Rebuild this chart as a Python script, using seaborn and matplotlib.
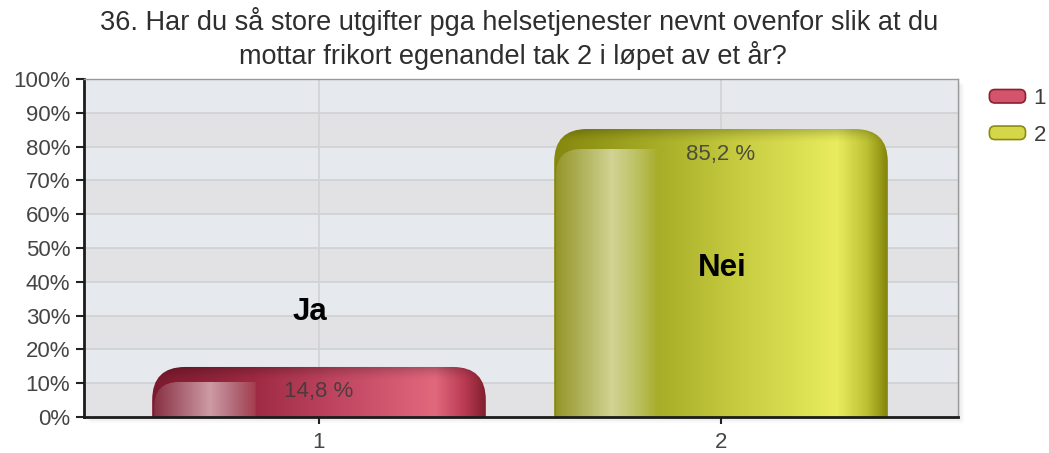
import numpy as np
import pandas as pd
import matplotlib
matplotlib.use("Agg")
import matplotlib.pyplot as plt
import seaborn as sns
from matplotlib.path import Path
from matplotlib.patches import PathPatch, FancyBboxPatch, Rectangle, Patch
from matplotlib.colors import LinearSegmentedColormap
from matplotlib.legend_handler import HandlerPatch

# ---- data -------------------------------------------------------------
categories = ["1", "2"]
shares = [14.8, 85.2]
answers = ["Ja", "Nei"]
value_labels = ["14,8 %", "85,2 %"]
title_lines = [
    "36. Har du så store utgifter pga helsetjenester nevnt ovenfor slik at du",
    "mottar frikort egenandel tak 2 i løpet av et år?",
]
y_ticks = list(range(0, 101, 10))
y_tick_labels = [f"{t}%" for t in y_ticks]

# ---- styling ----------------------------------------------------------
body_stops = [
    [(0.0, "#7a1a2e"), (0.3, "#9e2a42"), (0.55, "#bf4560"), (0.85, "#e2687e"),
     (0.94, "#b83a52"), (1.0, "#84202f")],
    [(0.0, "#86880e"), (0.3, "#a6ac26"), (0.55, "#c6cb40"), (0.85, "#e8ec5e"),
     (0.94, "#bcc032"), (1.0, "#85860c")],
]
shine_stops = [
    [(0.0, "#8a3445"), (0.55, "#d5a9b2"), (0.8, "#b5707e"), (1.0, "#a4404f")],
    [(0.0, "#96982e"), (0.55, "#d8daa2"), (0.8, "#c0c46a"), (1.0, "#a8ae2c")],
]
legend_colors = ["#d4546c", "#d4d848"]
legend_edges = ["#8a2035", "#8a8c10"]
band_colors = ["#e2e2e4", "#e6e9ed"]

W, H = 1049, 453
sns.set_theme(style="white")
plt.rcParams["font.family"] = ["Liberation Sans", "DejaVu Sans"]

fig = plt.figure(figsize=(W / 100, H / 100), dpi=100)
fig.patch.set_facecolor("white")
ax_rect = [84 / W, 1 - 417 / H, (958 - 84) / W, (417 - 79) / H]
ax = fig.add_axes(ax_rect)

# soft drop shadow behind the plot area
for k, a in [(6, 0.025), (4, 0.035), (2, 0.05)]:
    fig.patches.append(Rectangle((ax_rect[0] + k / W, ax_rect[1] - k / H),
                                 ax_rect[2], ax_rect[3], transform=fig.transFigure,
                                 facecolor="black", alpha=a, edgecolor="none", zorder=-5))

df = pd.DataFrame({"kategori": categories, "andel": shares})
sns.barplot(data=df, x="kategori", y="andel", hue="kategori", palette=legend_colors,
            width=0.83, ax=ax, legend=False, zorder=2)

ax.set_xlim(-235 / 402, 1 + 237 / 402)
ax.set_ylim(0, 100)

# alternating horizontal bands and grid
for i in range(10):
    ax.axhspan(i * 10, (i + 1) * 10, color=band_colors[i % 2], zorder=0, lw=0)
for t in y_ticks[1:-1]:
    ax.axhline(t, color="#cfd0d3", lw=1.2, zorder=1)
for i in range(len(categories)):
    ax.axvline(i, color="#d2d2d4", lw=1.2, zorder=1)

fig.canvas.draw()
# data units per pixel
(px0, py0), (px1, py1) = ax.transData.transform([(0, 0), (1, 10)])
ux = 1 / (px1 - px0)
uy = 10 / (py1 - py0)


def rounded_top(x0, x1, y0, y1, rx, ry, left_only=False):
    ry = min(ry, y1 - y0)
    verts = [(x0, y0), (x0, y1 - ry), (x0, y1), (x0 + rx, y1)]
    codes = [Path.MOVETO, Path.LINETO, Path.CURVE3, Path.CURVE3]
    if left_only:
        verts += [(x1, y1), (x1, y0), (x0, y0)]
        codes += [Path.LINETO, Path.LINETO, Path.CLOSEPOLY]
    else:
        verts += [(x1 - rx, y1), (x1, y1), (x1, y1 - ry), (x1, y0), (x0, y0)]
        codes += [Path.LINETO, Path.CURVE3, Path.CURVE3, Path.LINETO, Path.CLOSEPOLY]
    return Path(verts, codes)


def hgrad(stops):
    cmap = LinearSegmentedColormap.from_list("g", stops)
    return cmap(np.linspace(0, 1, 400))[None, :, :]


bars = [p for p in ax.patches if isinstance(p, Rectangle)][: len(categories)]
bars = sorted(bars, key=lambda p: p.get_x())
for i, bar in enumerate(bars):
    bar.set_visible(False)
    x0, w, h = bar.get_x(), bar.get_width(), bar.get_height()
    x1 = x0 + w
    rx, ry = 33 * ux, 33 * uy
    clip = PathPatch(rounded_top(x0, x1, 0, h, rx, ry), transform=ax.transData,
                     facecolor="none", edgecolor="none")
    im = ax.imshow(hgrad(body_stops[i]), extent=[x0, x1, 0, h], aspect="auto",
                   zorder=3, interpolation="bilinear")
    im.set_clip_path(clip)

    # darker rim along the rounded top
    rim = np.zeros((64, 1, 4))
    rim[..., 3] = np.linspace(0.0, 0.35, 64)[:, None] ** 1.5
    top_band = 14 * uy
    im2 = ax.imshow(rim, extent=[x0, x1, h - top_band, h], aspect="auto",
                    zorder=4, interpolation="bilinear", origin="lower")
    im2.set_clip_path(clip)

    # glossy highlight strip on the left
    drop = min(20, 0.3 * h / uy) * uy
    sx0, sx1 = x0 + 2 * ux, x0 + 0.31 * w
    sclip = PathPatch(rounded_top(sx0, sx1, 0, h - drop, 25 * ux, 25 * uy, left_only=True),
                      transform=ax.transData, facecolor="none", edgecolor="none")
    im3 = ax.imshow(hgrad(shine_stops[i]), extent=[sx0, sx1, 0, h - drop],
                    aspect="auto", zorder=5, interpolation="bilinear", alpha=0.9)
    im3.set_clip_path(sclip)

    xc = x0 + w / 2
    ax.text(xc, h - 25 * uy, value_labels[i], ha="center", va="center",
            fontsize=16, color="#3a3a3a", alpha=0.85, zorder=6)

ax.text(0 - 9 * ux, 31.2, answers[0], ha="center", va="center",
        fontsize=22.5, fontweight="bold", color="black", zorder=6)
ax.text(1 + 1 * ux, 44.0, answers[1], ha="center", va="center",
        fontsize=22.5, fontweight="bold", color="black", zorder=6)

ax.set_xlim(-235 / 402, 1 + 237 / 402)
ax.set_ylim(0, 100)

ax.set_yticks(y_ticks)
ax.set_yticklabels(y_tick_labels)
ax.set_xticks(range(len(categories)))
ax.set_xticklabels(categories)
ax.set_xlabel("")
ax.set_ylabel("")
ax.tick_params(axis="y", direction="out", length=6, width=1.5, color="#222222",
               labelsize=16, labelcolor="#454545", pad=4, left=True)
ax.tick_params(axis="x", direction="out", length=5, width=1.5, color="#222222",
               labelsize=16, labelcolor="#454545", pad=6, bottom=True)

for side in ["left", "bottom"]:
    ax.spines[side].set_color("#1c1c1c")
    ax.spines[side].set_linewidth(2)
for side in ["top", "right"]:
    ax.spines[side].set_color("#9a9a9a")
    ax.spines[side].set_linewidth(1)
for s in ax.spines.values():
    s.set_zorder(7)

# title
fig.text(519 / W, 1 - 22 / H, title_lines[0], ha="center", va="center",
         fontsize=19.5, color="#2e2e2e")
fig.text(513 / W, 1 - 56 / H, title_lines[1], ha="center", va="center",
         fontsize=19.5, color="#2e2e2e")


class RoundHandler(HandlerPatch):
    def create_artists(self, legend, orig_handle, xdescent, ydescent, width,
                       height, fontsize, trans):
        p = FancyBboxPatch((-xdescent + 1, -ydescent + 1), width - 2, height - 2,
                           boxstyle="round,pad=0,rounding_size=4",
                           facecolor=orig_handle.get_facecolor(),
                           edgecolor=orig_handle.get_edgecolor(), lw=1.2)
        p.set_transform(trans)
        return [p]


handles = [Patch(facecolor=c, edgecolor=e) for c, e in zip(legend_colors, legend_edges)]
fig.legend(handles, categories, loc="upper left", bbox_to_anchor=(988 / W, 1 - 88 / H),
           frameon=False, fontsize=16, handlelength=1.75, handleheight=0.75,
           labelspacing=0.7, handletextpad=0.3, borderpad=0, borderaxespad=0,
           labelcolor="#3c3c3c", handler_map={Patch: RoundHandler()})

fig.savefig("out.png", dpi=100, facecolor="white")
